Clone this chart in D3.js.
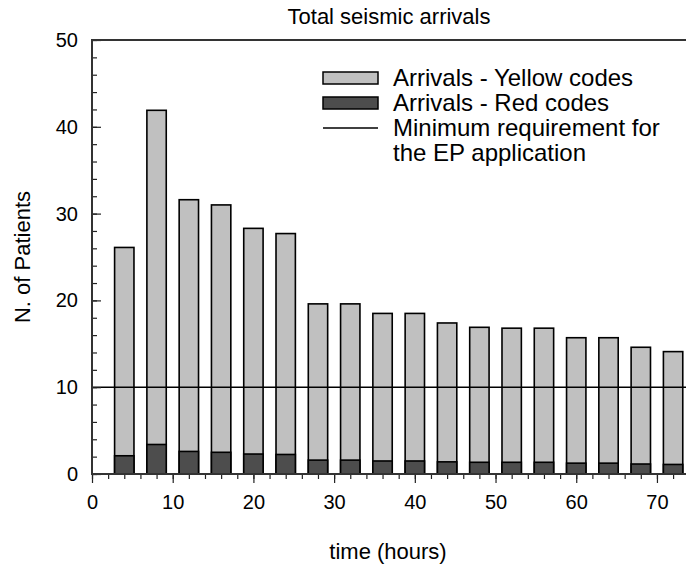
<!DOCTYPE html>
<html>
<head>
<meta charset="utf-8">
<script src="https://cdn.jsdelivr.net/npm/d3@7"></script>
<style>
  body { margin: 0; background: #fff; }
  svg { display: block; font-family: Arial, "Liberation Sans", sans-serif; }
</style>
</head>
<body>
<div id="chart"></div>
<script>
// hours after the event (bar centres)
const hours = [4, 8, 12, 16, 20, 24, 28, 32, 36, 40, 44, 48, 52, 56, 60, 64, 68, 72];
// total arrivals (yellow codes bar height)
const yellowCodes = [26.1, 41.9, 31.6, 31.0, 28.3, 27.7, 19.6, 19.6, 18.5, 18.5, 17.4, 16.9, 16.8, 16.8, 15.7, 15.7, 14.6, 14.1];
// red codes
const redCodes = [2.1, 3.4, 2.6, 2.5, 2.3, 2.25, 1.6, 1.6, 1.5, 1.5, 1.4, 1.35, 1.35, 1.35, 1.25, 1.25, 1.15, 1.1];
const minRequirement = 10;
const xTicks = [0, 10, 20, 30, 40, 50, 60, 70];
const yTicks = [0, 10, 20, 30, 40, 50];
const legendLabels = ["Arrivals - Yellow codes", "Arrivals - Red codes", "Minimum requirement for", "the EP application"];

const width = 686,
    height = 567,
    margin = ({ top: 40, right: 0, bottom: 93, left: 92 });

const data = hours.map((h, i) => ({ h: h, yellow: yellowCodes[i], red: redCodes[i] }));

let svg = d3.select("#chart")
    .append("svg")
    .attr("width", width)
    .attr("height", height);

let x = d3.scaleLinear()
    .domain([0, 73.6])
    .range([margin.left, width - margin.right]);

let y = d3.scaleLinear()
    .domain([0, 50])
    .range([height - margin.bottom, margin.top]);

const barW = x(2.4) - x(0);

// bars: yellow total first, red on top of it
let bar = svg.selectAll(".bar")
    .data(data)
    .join("g")
    .attr("class", "bar");

bar.append("rect")
    .attr("x", d => x(d.h) - barW / 2)
    .attr("width", barW)
    .attr("y", d => y(d.yellow))
    .attr("height", d => y(0) - y(d.yellow))
    .attr("fill", "#c0c0c0")
    .attr("stroke", "#000")
    .attr("stroke-width", 1.6);

bar.append("rect")
    .attr("x", d => x(d.h) - barW / 2)
    .attr("width", barW)
    .attr("y", d => y(d.red))
    .attr("height", d => y(0) - y(d.red))
    .attr("fill", "#4d4d4d")
    .attr("stroke", "#000")
    .attr("stroke-width", 1.6);

// minimum requirement line
svg.append("line")
    .attr("x1", x(0)).attr("x2", width)
    .attr("y1", y(minRequirement)).attr("y2", y(minRequirement))
    .attr("stroke", "#000")
    .attr("stroke-width", 1.5);

// x axis: minor every 2, major every 10, ticks outward
svg.append("g")
    .attr("transform", `translate(0,${y(0)})`)
    .call(d3.axisBottom(x).tickValues(d3.range(0, 74, 2)).tickSize(5).tickFormat(""))
    .call(g => g.select(".domain").remove())
    .selectAll("line").attr("stroke", "#222").attr("stroke-width", 1.2);

svg.append("g")
    .attr("transform", `translate(0,${y(0)})`)
    .call(d3.axisBottom(x).tickValues(xTicks).tickSize(9).tickPadding(12))
    .call(g => g.select(".domain").remove())
    .call(g => g.selectAll("line").attr("stroke", "#222").attr("stroke-width", 1.2))
    .call(g => g.selectAll("text").attr("font-size", 20).attr("fill", "#000"));

// y axis: ticks pointing into the plot
svg.append("g")
    .attr("transform", `translate(${x(0)},0)`)
    .call(d3.axisRight(y).tickValues(d3.range(0, 51, 2)).tickSize(5).tickFormat(""))
    .call(g => g.select(".domain").remove())
    .selectAll("line").attr("stroke", "#222").attr("stroke-width", 1.2);

svg.append("g")
    .attr("transform", `translate(${x(0)},0)`)
    .call(d3.axisRight(y).tickValues(yTicks).tickSize(9).tickFormat(""))
    .call(g => g.select(".domain").remove())
    .selectAll("line").attr("stroke", "#222").attr("stroke-width", 1.2);

svg.append("g")
    .selectAll("text")
    .data(yTicks)
    .join("text")
    .attr("x", x(0) - 14)
    .attr("y", d => y(d))
    .attr("dy", "0.35em")
    .attr("text-anchor", "end")
    .attr("font-size", 20)
    .text(d => d);

// frame: left, bottom, top lines
svg.append("path")
    .attr("d", `M${width},${y(50)}H${x(0)}V${y(0)}H${width}`)
    .attr("fill", "none")
    .attr("stroke", "#333")
    .attr("stroke-width", 2);

svg.append("text")
    .attr("x", 389)
    .attr("y", 24)
    .attr("text-anchor", "middle")
    .attr("font-size", 22)
    .text("Total seismic arrivals");

svg.append("text")
    .attr("x", 388)
    .attr("y", 559)
    .attr("text-anchor", "middle")
    .attr("font-size", 22)
    .text("time (hours)");

svg.append("text")
    .attr("transform", "rotate(-90)")
    .attr("x", -(y(0) + y(50)) / 2)
    .attr("y", 30)
    .attr("text-anchor", "middle")
    .attr("font-size", 22)
    .text("N. of Patients");

// legend
const lg = svg.append("g");
const sx = 323, sw = 55, sh = 12;
lg.append("rect").attr("x", sx).attr("y", 72).attr("width", sw).attr("height", sh)
    .attr("fill", "#c0c0c0").attr("stroke", "#000").attr("stroke-width", 1.5);
lg.append("rect").attr("x", sx).attr("y", 97).attr("width", sw).attr("height", sh)
    .attr("fill", "#4d4d4d").attr("stroke", "#000").attr("stroke-width", 1.5);
lg.append("line").attr("x1", sx).attr("x2", sx + sw).attr("y1", 128).attr("y2", 128)
    .attr("stroke", "#000").attr("stroke-width", 1.3);
lg.selectAll("text")
    .data(legendLabels)
    .join("text")
    .attr("x", 393)
    .attr("y", (d, i) => 78 + i * 24.7)
    .attr("dy", "0.35em")
    .attr("font-size", 24)
    .text(d => d);
</script>
</body>
</html>
